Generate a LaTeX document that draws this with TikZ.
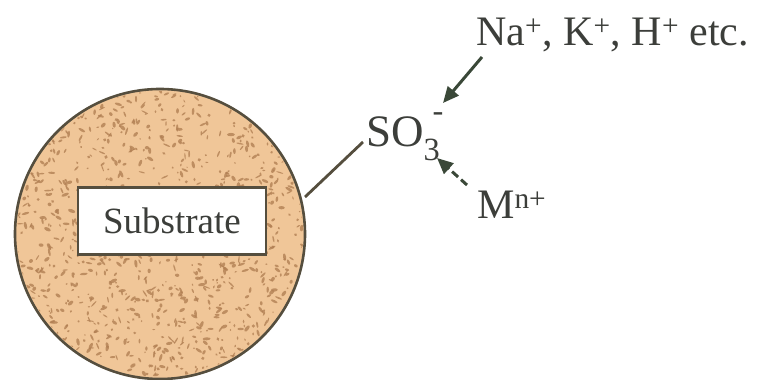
\documentclass[tikz,border=0pt]{standalone}
\usepackage{fontspec}
\setmainfont{Liberation Serif}
\usetikzlibrary{arrows.meta,calc}
\definecolor{sand}{RGB}{240,198,152}
\definecolor{speckcol}{RGB}{178,128,84}
\definecolor{rimcol}{RGB}{85,78,62}
\definecolor{inkcol}{RGB}{60,62,58}
\definecolor{arrcol}{RGB}{58,72,56}
\newcommand{\sothree}{SO\rlap{\raisebox{-0.32em}{\scalebox{0.72}{3}}}\kern0.2em\raisebox{0.55em}{\scalebox{0.72}{-}}}
\begin{document}
\begin{tikzpicture}[x=1pt,y=-1pt,
  txt/.style={text=inkcol,font=\fontsize{42}{46}\selectfont,inner sep=0pt},
  arr/.style={draw=arrcol,line width=3pt,-{Triangle[length=16pt,width=14pt]}},
  bond/.style={draw=rimcol,line width=2.8pt}]
\useasboundingbox (0,0) rectangle (766,380);
% bead
\node[circle,draw=rimcol,line width=2.6pt,fill=sand,minimum size=290pt,inner sep=0pt] (bead) at (160,234) {};
\begin{scope}
\clip (160,234) circle (143);
\pgfmathsetseed{11}
\foreach \i in {1,...,950}{
  \pgfmathsetmacro\ang{rnd*360}
  \pgfmathsetmacro\rad{sqrt(rnd)*145}
  \pgfmathsetmacro\rot{rnd*180}
  \pgfmathsetmacro\rx{0.8+rnd*3.2}
  \pgfmathsetmacro\ry{0.6+rnd*1.2}
  \fill[speckcol,opacity=0.8] ($(160,234)+(\ang:\rad)$) ellipse [x radius=\rx, y radius=\ry, rotate=\rot];
}
\end{scope}
\node[draw=rimcol,line width=2.6pt,fill=white,minimum width=188pt,minimum height=67pt,inner sep=0pt,
  font=\fontsize{37}{42}\selectfont,text=inkcol] (sub) at (172,221) {Substrate};
% labels
\node[txt,anchor=base west,font=\fontsize{45}{50}\selectfont] (so3) at (366,146) {\sothree};
\node[txt,anchor=base west] (ions) at (476,45) {Na\textsuperscript{+}, K\textsuperscript{+}, H\textsuperscript{+} etc.};
\node[txt,anchor=base west] (metal) at (477,218) {M\textsuperscript{n+}};
% connectors
\coordinate (bondstart) at (305,197);
\coordinate (bondend) at (363,142);
\draw[bond] (bondstart) -- (bondend);
\coordinate (ionsfoot) at (482,57);
\coordinate (sotop) at (443,103);
\draw[arr] (ionsfoot) -- (sotop);
\coordinate (mfoot) at (467,185);
\coordinate (sobot) at (437,158);
\draw[arr,dash pattern=on 8pt off 4pt] (mfoot) -- (sobot);
\end{tikzpicture}
\end{document}
